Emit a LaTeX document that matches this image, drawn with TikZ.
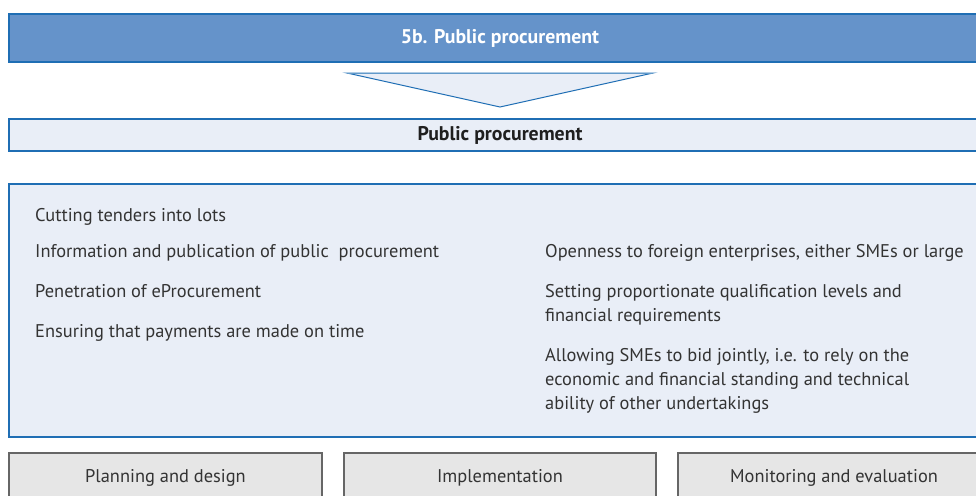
\documentclass[tikz,border=0pt]{standalone}
\usepackage{fontspec}
\setmainfont{PT Sans}
\definecolor{hdrblue}{HTML}{6593CA}
\definecolor{lineblue}{HTML}{1F6EB4}
\definecolor{paleblue}{HTML}{E9EEF7}
\definecolor{boxgray}{HTML}{E6E6E6}
\definecolor{txtgray}{HTML}{333333}
\tikzset{
  item/.style={anchor=base west,text=txtgray,inner sep=0pt,align=left,
    font=\fontsize{18.4}{24}\selectfont},
  title/.style={font=\fontsize{19.8}{22}\selectfont\bfseries,inner sep=0pt},
  phasebox/.style={draw=black!60,fill=boxgray,line width=1.2pt},
  phase/.style={text=txtgray,font=\fontsize{18.4}{22}\selectfont,inner sep=0pt}
}
\begin{document}
\begin{tikzpicture}[x=1pt,y=-1pt]
\useasboundingbox (0,0) rectangle (976,495);
% heading
\draw[lineblue,line width=1.6pt,fill=hdrblue] (9,14) rectangle (990,62);
\node[title,text=white] (head) at (500,38) {5b. Public procurement};
% arrow
\draw[lineblue,line width=1pt,fill=paleblue] (347,73)--(653,73)--(500,107)--cycle;
\draw[lineblue!70,line width=1pt] (347,73)--(653,73);
% sub heading
\draw[lineblue,line width=1.3pt,fill=paleblue] (9,119) rectangle (990,151);
\node[title,text=txtgray!60!black] (sub) at (500,135) {Public procurement};
% measures
\draw[lineblue,line width=1.3pt,fill=paleblue] (9,184) rectangle (990,437);
\node[item] (lots) at (35,221) {Cutting tenders into lots};
\node[item] (info) at (35,257) {Information and publication of public\ \ procurement};
\node[item] (eproc) at (35,297) {Penetration of eProcurement};
\node[item] (pay) at (35,337) {Ensuring that payments are made on time};
\node[item] (open) at (545,257) {Openness to foreign enterprises, either SMEs or large};
\node[item] (qual) at (545,321) {Setting proportionate qualification levels and\\financial requirements};
\node[item] (joint) at (545,409) {Allowing SMEs to bid jointly, i.e. to rely on the\\economic and financial standing and technical\\ability of other undertakings};
% phases
\draw[phasebox] (9,453) rectangle (322,505);
\draw[phasebox] (344,453) rectangle (656,505);
\draw[phasebox] (678,453) rectangle (990,505);
\node[phase] (plan) at (165.5,478) {Planning and design};
\node[phase] (impl) at (500,478) {Implementation};
\node[phase] (mon) at (834,478) {Monitoring and evaluation};
\end{tikzpicture}
\end{document}
